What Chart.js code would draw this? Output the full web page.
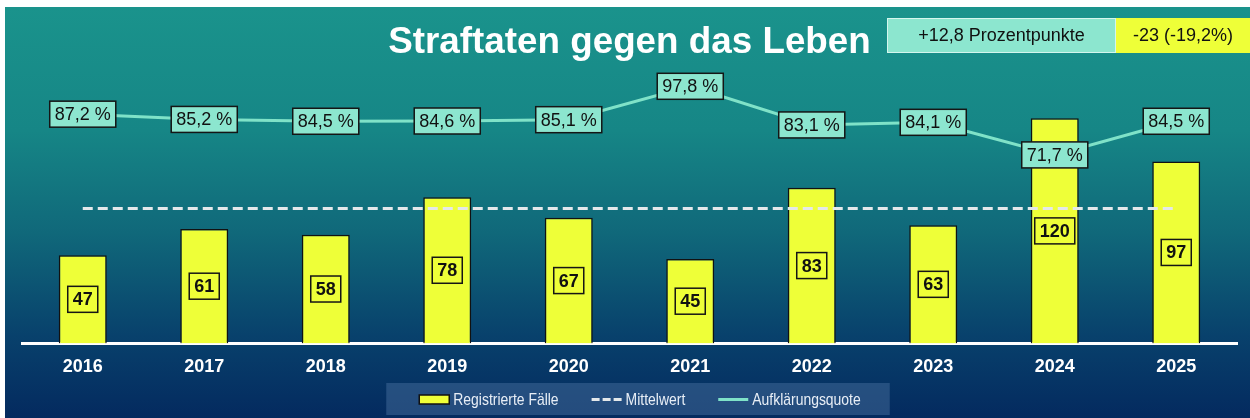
<!DOCTYPE html>
<html>
<head>
<meta charset="utf-8">
<script src="https://cdn.jsdelivr.net/npm/chart.js@4.4.1/dist/chart.umd.min.js"></script>
<style>
  html, body { margin: 0; padding: 0; background: #fff; }
  #wrap { position: relative; width: 1250px; height: 418px; }
</style>
</head>
<body>
<div id="wrap"><canvas id="chart"></canvas></div>
<script>
const years = ['2016', '2017', '2018', '2019', '2020', '2021', '2022', '2023', '2024', '2025'];
const faelle = [47, 61, 58, 78, 67, 45, 83, 63, 120, 97];
const mittelwert = [71.9, 71.9, 71.9, 71.9, 71.9, 71.9, 71.9, 71.9, 71.9, 71.9];
const quote = [87.2, 85.2, 84.5, 84.6, 85.1, 97.8, 83.1, 84.1, 71.7, 84.5];
const quoteLabels = ['87,2 %', '85,2 %', '84,5 %', '84,6 %', '85,1 %', '97,8 %', '83,1 %', '84,1 %', '71,7 %', '84,5 %'];
const titleText = 'Straftaten gegen das Leben';
const badgeQuote = '+12,8 Prozentpunkte';
const badgeFaelle = '-23 (-19,2%)';

const FONT = '"Liberation Sans", Arial, sans-serif';
const YELLOW = '#eeff38';
const MINT = '#8ce6cf';

function boxLabel(ctx, text, cx, cy, font, fill) {
  ctx.font = font;
  const w = ctx.measureText(text).width + 10;
  const h = 26;
  if (fill) {
    ctx.fillStyle = fill;
    ctx.fillRect(cx - w / 2, cy - h / 2, w, h);
  }
  ctx.lineWidth = 1.5;
  ctx.strokeStyle = '#151515';
  ctx.strokeRect(cx - w / 2, cy - h / 2, w, h);
  ctx.fillStyle = '#111';
  ctx.textAlign = 'center';
  ctx.textBaseline = 'middle';
  ctx.fillText(text, cx, cy + 1);
}

// gradient background with the thin white margin on top and left
const background = {
  id: 'background',
  beforeDraw(chart) {
    const { ctx, width, height } = chart;
    ctx.save();
    ctx.fillStyle = '#fff';
    ctx.fillRect(0, 0, width, height);
    const g = ctx.createLinearGradient(0, 7, 0, height);
    g.addColorStop(0, '#1a938c');
    g.addColorStop(0.3, '#168686');
    g.addColorStop(0.55, '#10687a');
    g.addColorStop(0.8, '#08416c');
    g.addColorStop(1, '#042a5f');
    ctx.fillStyle = g;
    ctx.fillRect(5, 7, width - 5, height - 7);
    ctx.restore();
  }
};

const valueBoxes = {
  id: 'valueBoxes',
  afterDatasetsDraw(chart) {
    const ctx = chart.ctx;
    ctx.save();
    chart.getDatasetMeta(0).data.forEach((el, i) => {
      boxLabel(ctx, String(faelle[i]), el.x, (el.y + el.base) / 2, 'bold 18px ' + FONT, null);
    });
    chart.getDatasetMeta(2).data.forEach((el, i) => {
      boxLabel(ctx, quoteLabels[i], el.x, el.y, '18px ' + FONT, MINT);
    });
    ctx.restore();
  }
};

const extras = {
  id: 'extras',
  afterDraw(chart) {
    const ctx = chart.ctx;
    ctx.save();
    // badges top right
    ctx.fillStyle = MINT;
    ctx.fillRect(887, 18, 229, 35);
    ctx.strokeStyle = 'rgba(230,250,245,0.8)';
    ctx.lineWidth = 1;
    ctx.strokeRect(887.5, 18.5, 228, 34);
    ctx.fillStyle = YELLOW;
    ctx.fillRect(1116, 18, 134, 35);
    ctx.font = '18px ' + FONT;
    ctx.fillStyle = '#111';
    ctx.textAlign = 'center';
    ctx.textBaseline = 'middle';
    ctx.fillText(badgeQuote, 1001.5, 36);
    ctx.fillText(badgeFaelle, 1183, 36);

    // legend (narrow text, squeezed horizontally)
    const ds = chart.data.datasets;
    const sx = 0.82;
    ctx.font = '17px ' + FONT;
    const iconW = 30, gapText = 4, gapItem = 33;
    const widths = ds.map(d => iconW + gapText + ctx.measureText(d.label).width * sx);
    const total = widths.reduce((a, b) => a + b, 0) + gapItem * (ds.length - 1);
    let x = 640 - total / 2;
    const cy = 399;
    ctx.fillStyle = 'rgba(64,104,152,0.55)';
    ctx.fillRect(x - 33, 383, total + 62, 32);
    ds.forEach((d, i) => {
      if (d.type === 'bar') {
        ctx.fillStyle = d.backgroundColor;
        ctx.fillRect(x, cy - 4, iconW, 9);
        ctx.strokeStyle = '#111';
        ctx.lineWidth = 1.5;
        ctx.strokeRect(x, cy - 4, iconW, 9);
      } else {
        ctx.strokeStyle = d.borderColor;
        ctx.lineWidth = 3;
        ctx.setLineDash(d.borderDash ? [8, 3] : []);
        ctx.beginPath();
        ctx.moveTo(x, cy + 0.5);
        ctx.lineTo(x + iconW, cy + 0.5);
        ctx.stroke();
        ctx.setLineDash([]);
      }
      ctx.save();
      ctx.translate(x + iconW + gapText, cy + 1);
      ctx.scale(sx, 1);
      ctx.fillStyle = '#e8eef6';
      ctx.textAlign = 'left';
      ctx.fillText(d.label, 0, 0);
      ctx.restore();
      x += widths[i] + gapItem;
    });
    ctx.restore();
  }
};

new Chart(document.getElementById('chart'), {
  type: 'bar',
  data: {
    labels: years,
    datasets: [
      {
        type: 'bar',
        label: 'Registrierte Fälle',
        data: faelle,
        yAxisID: 'y',
        backgroundColor: YELLOW,
        borderColor: '#111',
        borderWidth: 1.5,
        barPercentage: 0.395,
        categoryPercentage: 1,
        order: 3
      },
      {
        type: 'line',
        label: 'Mittelwert',
        data: mittelwert,
        yAxisID: 'y',
        borderColor: '#e4e8ea',
        borderWidth: 3,
        borderDash: [10, 5],
        pointRadius: 0,
        order: 2
      },
      {
        type: 'line',
        label: 'Aufklärungsquote',
        data: quote,
        yAxisID: 'y2',
        borderColor: '#7fe2c8',
        borderWidth: 3,
        pointRadius: 0,
        tension: 0,
        order: 1
      }
    ]
  },
  options: {
    responsive: true,
    maintainAspectRatio: false,
    animation: false,
    devicePixelRatio: 1,
    layout: { padding: { left: 22, right: 13, top: 0, bottom: 27 } },
    plugins: {
      legend: { display: false },
      tooltip: { enabled: false },
      title: {
        display: true,
        text: titleText,
        color: '#fff',
        font: { family: FONT, size: 36.8, weight: 'bold', lineHeight: 1.0 },
        padding: { top: 24, bottom: 0 }
      }
    },
    scales: {
      x: {
        grid: { display: false, drawTicks: false },
        border: { display: true, color: '#fff', width: 3 },
        ticks: { color: '#fff', padding: 13, font: { family: FONT, size: 18, weight: 'bold' } }
      },
      y: { display: false, min: 0, max: 150.7 },
      y2: { display: false, min: 0, max: 107.5 }
    }
  },
  plugins: [background, valueBoxes, extras]
});
</script>
</body>
</html>
